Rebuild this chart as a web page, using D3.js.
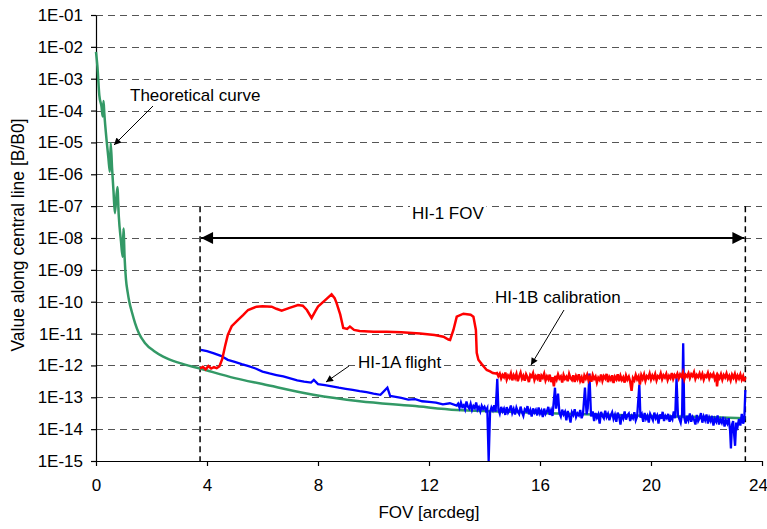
<!DOCTYPE html>
<html>
<head>
<meta charset="utf-8">
<script src="https://cdn.jsdelivr.net/npm/d3@7"></script>
<style>
  body { margin: 0; background: #fff; }
  text { font-family: "Liberation Sans", Arial, sans-serif; fill: #000; }
</style>
</head>
<body>
<div id="chart"></div>
<script>
// Axis ticks
const xTicks = [0, 4, 8, 12, 16, 20, 24];
const yTicks = [1e-1, 1e-2, 1e-3, 1e-4, 1e-5, 1e-6, 1e-7, 1e-8, 1e-9, 1e-10, 1e-11, 1e-12, 1e-13, 1e-14, 1e-15];
const yTickLabels = ["1E-01", "1E-02", "1E-03", "1E-04", "1E-05", "1E-06", "1E-07", "1E-08",
  "1E-09", "1E-10", "1E-11", "1E-12", "1E-13", "1E-14", "1E-15"];

// HI-1 field of view limits [arcdeg]
const fovEdges = [3.75, 23.4];

// Theoretical curve [FOV, B/B0]
const theoretical = [
  [0.00, 7.0e-3], [0.05, 2.5e-3], [0.12, 3.0e-4], [0.20, 1.3e-4], [0.24, 6.5e-5], [0.27, 2.0e-4],
  [0.30, 8.0e-5], [0.38, 1.2e-5], [0.45, 3.0e-6], [0.50, 1.2e-6], [0.53, 9.5e-6], [0.58, 1.5e-6],
  [0.63, 3.0e-7], [0.68, 6.0e-8], [0.77, 4.0e-7], [0.82, 5.0e-8], [0.90, 8.0e-9], [0.96, 2.6e-9],
  [0.99, 2.0e-8], [1.03, 2.5e-9], [1.08, 5.0e-10], [1.14, 2.0e-10], [1.20, 1.0e-10], [1.30, 4.5e-11],
  [1.41, 2.1e-11], [1.55, 1.0e-11], [1.77, 5.0e-12], [2.10, 2.8e-12], [2.42, 1.9e-12], [3.00, 1.2e-12],
  [3.75, 8.0e-13], [5.00, 4.0e-13], [6.00, 2.6e-13], [7.83, 1.2e-13], [9.50, 7.5e-14], [11.4, 5.4e-14],
  [13.0, 4.0e-14], [14.5, 3.6e-14], [16.0, 3.2e-14], [18.0, 2.9e-14], [20.0, 2.6e-14], [22.0, 2.4e-14],
  [23.4, 2.2e-14]
];

// HI-1A flight [FOV, B/B0]
const hi1aFlight = [
  [3.78, 3.1e-12], [4.00, 2.8e-12], [4.25, 2.4e-12], [4.50, 2.0e-12], [4.75, 1.5e-12], [5.00, 1.3e-12],
  [5.25, 1.1e-12], [5.50, 9.5e-13], [5.75, 8.0e-13], [6.00, 6.4e-13], [6.25, 5.6e-13], [6.50, 5.0e-13],
  [6.75, 4.5e-13], [7.00, 3.9e-13], [7.25, 3.4e-13], [7.50, 3.1e-13], [7.75, 2.9e-13], [7.85, 3.5e-13],
  [8.00, 2.6e-13], [8.25, 2.4e-13], [8.50, 2.2e-13], [8.75, 2.0e-13], [9.00, 1.85e-13], [9.25, 1.7e-13],
  [9.50, 1.55e-13], [9.75, 1.45e-13], [10.0, 1.3e-13], [10.25, 1.2e-13], [10.5, 2.0e-13], [10.6, 1.1e-13],
  [10.75, 1.05e-13], [11.0, 9.5e-14], [11.25, 8.5e-14], [11.5, 8.8e-14], [11.75, 7.5e-14], [12.0, 7.2e-14],
  [12.25, 6.8e-14], [12.5, 6.0e-14], [12.75, 6.5e-14],
  [13.00, 5.5e-14], [13.05, 6.3e-14], [13.10, 4.7e-14], [13.15, 6.8e-14], [13.20, 5.0e-14], [13.25, 5.6e-14],
  [13.30, 4.2e-14], [13.35, 7.4e-14], [13.40, 5.1e-14], [13.45, 4.4e-14], [13.50, 6.2e-14], [13.55, 4.0e-14],
  [13.60, 5.3e-14], [13.65, 4.6e-14], [13.70, 6.9e-14], [13.75, 4.1e-14], [13.80, 4.9e-14], [13.85, 3.6e-14],
  [13.90, 5.4e-14], [13.95, 4.3e-14], [14.00, 5.0e-14], [14.05, 3.8e-14], [14.10, 4.6e-14], [14.15, 1.0e-15],
  [14.20, 3.4e-14], [14.25, 4.8e-14], [14.30, 3.9e-14], [14.35, 5.6e-14], [14.40, 3.5e-14], [14.46, 3.8e-13],
  [14.50, 4.2e-14], [14.55, 3.1e-14], [14.60, 5.0e-14], [14.65, 3.6e-14], [14.70, 4.4e-14], [14.75, 2.8e-14],
  [14.80, 4.9e-14], [14.85, 3.3e-14], [14.90, 4.0e-14], [14.95, 5.5e-14], [15.00, 3.2e-14], [15.05, 4.3e-14],
  [15.10, 2.9e-14], [15.15, 4.7e-14], [15.20, 3.6e-14], [15.25, 3.0e-14], [15.30, 5.1e-14], [15.35, 3.4e-14],
  [15.40, 2.6e-14], [15.45, 4.2e-14], [15.50, 3.7e-14], [15.55, 5.3e-14], [15.60, 2.9e-14], [15.65, 3.9e-14],
  [15.70, 2.5e-14], [15.75, 4.5e-14], [15.80, 3.3e-14], [15.85, 4.0e-14], [15.90, 2.7e-14], [15.95, 4.8e-14],
  [16.00, 3.1e-14], [16.05, 3.8e-14], [16.10, 2.4e-14], [16.15, 4.4e-14], [16.20, 3.0e-14], [16.25, 3.6e-14],
  [16.30, 5.0e-14], [16.35, 2.8e-14], [16.40, 3.9e-14], [16.45, 2.6e-14], [16.54, 2.0e-13], [16.58, 4.4e-14],
  [16.65, 1.3e-13], [16.70, 3.2e-14], [16.75, 2.5e-14], [16.80, 4.1e-14], [16.85, 2.9e-14], [16.90, 3.5e-14],
  [16.95, 1.9e-14], [17.00, 3.7e-14], [17.05, 2.6e-14], [17.10, 1.6e-14], [17.15, 3.4e-14], [17.20, 2.8e-14],
  [17.25, 4.2e-14], [17.30, 2.4e-14], [17.35, 3.1e-14], [17.40, 2.7e-14], [17.45, 4.0e-14], [17.50, 2.2e-14],
  [17.55, 3.0e-14], [17.62, 2.0e-13], [17.68, 2.9e-14], [17.72, 4.5e-14], [17.78, 5.6e-13], [17.84, 2.5e-14],
  [17.90, 3.6e-14], [17.95, 1.8e-14], [18.00, 3.2e-14], [18.05, 2.3e-14], [18.10, 2.9e-14], [18.15, 1.5e-14],
  [18.20, 3.5e-14], [18.25, 2.6e-14], [18.30, 2.2e-14], [18.35, 3.8e-14], [18.40, 2.4e-14], [18.45, 3.0e-14],
  [18.50, 1.9e-14], [18.55, 2.7e-14], [18.60, 3.4e-14], [18.65, 2.1e-14], [18.70, 2.8e-14], [18.75, 1.7e-14],
  [18.80, 3.3e-14], [18.85, 2.5e-14], [18.90, 1.4e-14], [18.95, 2.9e-14], [19.00, 2.2e-14], [19.05, 3.6e-14],
  [19.10, 2.0e-14], [19.15, 2.7e-14], [19.20, 3.1e-14], [19.25, 1.8e-14], [19.30, 2.6e-14], [19.35, 2.2e-14],
  [19.40, 3.4e-14], [19.45, 1.9e-14], [19.50, 2.5e-14], [19.58, 2.5e-13], [19.62, 2.3e-14], [19.67, 2.9e-14],
  [19.72, 1.7e-14], [19.77, 3.2e-14], [19.82, 2.1e-14], [19.87, 2.6e-14], [19.92, 1.6e-14], [19.97, 3.0e-14],
  [20.02, 2.4e-14], [20.07, 1.9e-14], [20.12, 3.3e-14], [20.17, 2.2e-14], [20.22, 2.7e-14], [20.27, 1.5e-14],
  [20.32, 2.9e-14], [20.37, 2.1e-14], [20.42, 3.5e-14], [20.47, 1.8e-14], [20.52, 2.6e-14], [20.57, 2.2e-14],
  [20.62, 3.0e-14], [20.67, 1.7e-14], [20.72, 2.4e-14], [20.77, 2.0e-14], [20.82, 3.6e-14], [20.87, 2.2e-14],
  [20.92, 4.0e-13], [20.97, 2.8e-14], [21.02, 2.1e-14], [21.07, 1.6e-14], [21.12, 3.0e-14], [21.16, 5.0e-12],
  [21.20, 2.3e-14], [21.25, 1.5e-14], [21.30, 2.6e-14], [21.35, 1.9e-14], [21.40, 3.1e-14], [21.45, 1.7e-14],
  [21.50, 2.4e-14], [21.55, 2.0e-14], [21.60, 1.4e-14], [21.65, 2.8e-14], [21.70, 1.8e-14], [21.75, 2.2e-14],
  [21.80, 3.2e-14], [21.85, 1.6e-14], [21.90, 2.5e-14], [21.95, 1.9e-14], [22.00, 2.9e-14], [22.05, 1.5e-14],
  [22.10, 2.3e-14], [22.15, 1.8e-14], [22.20, 2.6e-14], [22.25, 1.3e-14], [22.30, 2.1e-14], [22.35, 1.7e-14],
  [22.40, 2.7e-14], [22.45, 1.4e-14], [22.50, 2.0e-14], [22.55, 1.6e-14], [22.60, 2.4e-14], [22.65, 1.2e-14],
  [22.70, 1.9e-14], [22.75, 1.5e-14], [22.80, 2.2e-14], [22.85, 9.0e-15], [22.88, 2.5e-15], [22.92, 1.4e-14],
  [22.96, 1.8e-14], [23.00, 6.0e-15], [23.03, 3.0e-15], [23.07, 1.6e-14], [23.12, 1.2e-14], [23.17, 2.1e-14],
  [23.22, 1.3e-14], [23.27, 3.0e-14], [23.32, 1.5e-14], [23.36, 1.9e-14], [23.40, 1.7e-13]
];

// HI-1B calibration [FOV, B/B0]
const hi1bCalibration = [
  [3.75, 8.0e-13], [3.85, 9.0e-13], [3.95, 7.5e-13], [4.05, 9.5e-13], [4.15, 8.0e-13], [4.25, 8.8e-13],
  [4.35, 8.2e-13], [4.45, 9.5e-13], [4.55, 1.6e-12], [4.65, 4.0e-12], [4.75, 9.0e-12], [4.89, 1.7e-11],
  [5.12, 2.7e-11], [5.30, 3.8e-11], [5.48, 5.5e-11], [5.79, 7.0e-11], [6.00, 7.2e-11], [6.33, 7.0e-11],
  [6.50, 6.0e-11], [6.69, 5.2e-11], [7.00, 6.5e-11], [7.28, 7.9e-11], [7.45, 7.5e-11], [7.60, 5.5e-11],
  [7.77, 3.1e-11], [7.90, 5.0e-11], [8.00, 7.0e-11], [8.25, 1.1e-10], [8.49, 1.7e-10], [8.60, 1.3e-10],
  [8.67, 9.0e-11], [8.80, 4.0e-11], [8.91, 1.5e-11], [9.05, 1.4e-11], [9.15, 1.65e-11], [9.30, 1.3e-11],
  [9.50, 1.2e-11], [10.0, 1.15e-11], [10.47, 1.15e-11], [11.0, 1.1e-11], [11.68, 1.0e-11], [12.2, 9.0e-12],
  [12.52, 8.0e-12], [12.7, 6.5e-12], [12.76, 6.3e-12], [12.88, 1.3e-11], [13.0, 3.4e-11], [13.24, 4.2e-11],
  [13.5, 3.9e-11], [13.6, 3.4e-11], [13.69, 1.3e-11], [13.72, 2.5e-12], [13.78, 1.5e-12], [13.9, 1.1e-12],
  [14.08, 7.2e-13], [14.2, 6.5e-13], [14.3, 5.8e-13], [14.4, 5.6e-13],
  [14.45, 5.8e-13], [14.50, 4.6e-13], [14.55, 5.5e-13], [14.60, 3.9e-13], [14.65, 5.0e-13], [14.70, 4.3e-13],
  [14.75, 6.0e-13], [14.80, 3.6e-13], [14.85, 4.8e-13], [14.90, 4.1e-13], [14.95, 5.6e-13], [15.00, 3.4e-13],
  [15.05, 4.9e-13], [15.10, 4.0e-13], [15.15, 5.4e-13], [15.20, 3.2e-13], [15.25, 4.5e-13], [15.30, 5.9e-13],
  [15.35, 3.8e-13], [15.40, 4.7e-13], [15.45, 3.3e-13], [15.50, 5.2e-13], [15.55, 4.2e-13], [15.60, 3.0e-13],
  [15.65, 5.0e-13], [15.70, 4.4e-13], [15.75, 5.7e-13], [15.80, 3.5e-13], [15.85, 4.6e-13], [15.90, 3.9e-13],
  [15.95, 5.3e-13], [16.00, 3.1e-13], [16.05, 4.8e-13], [16.10, 4.1e-13], [16.15, 5.5e-13], [16.20, 3.4e-13],
  [16.25, 4.5e-13], [16.30, 3.7e-13], [16.35, 5.1e-13], [16.40, 3.0e-13], [16.45, 4.3e-13], [16.50, 2.2e-13],
  [16.55, 4.7e-13], [16.60, 3.6e-13], [16.65, 5.2e-13], [16.70, 3.9e-13], [16.75, 4.5e-13], [16.80, 2.9e-13],
  [16.85, 5.0e-13], [16.90, 3.8e-13], [16.95, 4.4e-13], [17.00, 3.2e-13], [17.05, 5.4e-13], [17.10, 4.0e-13],
  [17.15, 3.5e-13], [17.20, 4.9e-13], [17.25, 3.0e-13], [17.30, 4.6e-13], [17.35, 3.7e-13], [17.40, 5.3e-13],
  [17.45, 3.3e-13], [17.50, 4.2e-13], [17.55, 2.8e-13], [17.60, 4.8e-13], [17.65, 3.9e-13], [17.70, 5.1e-13],
  [17.75, 3.4e-13], [17.80, 4.4e-13], [17.85, 3.1e-13], [17.90, 5.0e-13], [17.95, 3.8e-13], [18.00, 4.5e-13],
  [18.05, 2.9e-13], [18.10, 4.1e-13], [18.15, 3.5e-13], [18.20, 5.2e-13], [18.25, 3.3e-13], [18.30, 4.6e-13],
  [18.35, 3.9e-13], [18.40, 5.4e-13], [18.45, 3.0e-13], [18.50, 4.3e-13], [18.55, 3.6e-13], [18.60, 4.9e-13],
  [18.65, 2.8e-13], [18.70, 4.4e-13], [18.75, 3.7e-13], [18.80, 5.3e-13], [18.85, 3.2e-13], [18.90, 4.7e-13],
  [18.95, 3.5e-13], [19.00, 4.2e-13], [19.05, 2.9e-13], [19.10, 4.8e-13], [19.15, 3.6e-13], [19.20, 4.4e-13],
  [19.25, 3.1e-13], [19.30, 1.6e-13], [19.35, 4.0e-13], [19.40, 3.4e-13], [19.45, 5.0e-13], [19.50, 3.7e-13],
  [19.55, 4.5e-13], [19.60, 2.5e-13], [19.65, 4.9e-13], [19.70, 3.8e-13], [19.75, 5.2e-13], [19.80, 3.3e-13],
  [19.85, 4.6e-13], [19.90, 4.0e-13], [19.95, 5.5e-13], [20.00, 3.6e-13], [20.05, 4.8e-13], [20.10, 3.9e-13],
  [20.15, 5.3e-13], [20.20, 3.4e-13], [20.25, 4.6e-13], [20.30, 4.1e-13], [20.35, 5.6e-13], [20.40, 3.7e-13],
  [20.45, 4.9e-13], [20.50, 4.2e-13], [20.55, 5.4e-13], [20.60, 3.5e-13], [20.65, 4.7e-13], [20.70, 4.0e-13],
  [20.75, 5.8e-13], [20.80, 3.8e-13], [20.85, 5.0e-13], [20.90, 4.3e-13], [20.95, 5.5e-13], [21.00, 3.9e-13],
  [21.05, 5.2e-13], [21.10, 4.4e-13], [21.15, 6.0e-13], [21.20, 3.7e-13], [21.25, 5.1e-13], [21.30, 4.5e-13],
  [21.35, 5.7e-13], [21.40, 4.0e-13], [21.45, 5.3e-13], [21.50, 4.6e-13], [21.55, 6.1e-13], [21.60, 3.8e-13],
  [21.65, 5.0e-13], [21.70, 4.3e-13], [21.75, 5.6e-13], [21.80, 4.1e-13], [21.85, 5.4e-13], [21.90, 3.6e-13],
  [21.95, 4.9e-13], [22.00, 4.4e-13], [22.05, 5.8e-13], [22.10, 3.9e-13], [22.15, 5.2e-13], [22.20, 4.5e-13],
  [22.25, 5.5e-13], [22.30, 3.7e-13], [22.35, 4.6e-13], [22.38, 2.2e-13], [22.42, 4.8e-13], [22.47, 4.0e-13],
  [22.52, 5.3e-13], [22.57, 3.6e-13], [22.62, 5.0e-13], [22.67, 4.2e-13], [22.72, 5.6e-13], [22.77, 3.8e-13],
  [22.82, 4.7e-13], [22.87, 3.4e-13], [22.92, 5.1e-13], [22.97, 4.1e-13], [23.02, 5.4e-13], [23.07, 3.5e-13],
  [23.12, 4.8e-13], [23.17, 3.9e-13], [23.22, 5.2e-13], [23.27, 3.6e-13], [23.32, 4.6e-13], [23.36, 3.2e-13],
  [23.40, 4.3e-13]
];

// Layout
const W = 767, H = 529;
const margin = {top: 15, right: 5, bottom: 68, left: 96};

const svg = d3.select("#chart")
    .append("svg")
    .attr("width", W)
    .attr("height", H);

const x = d3.scaleLinear()
    .domain([0, 24])
    .range([margin.left, W - margin.right]);
const y = d3.scaleLog()
    .domain([1e-15, 1e-1])
    .range([H - margin.bottom, margin.top]);

// Dashed horizontal gridlines
svg.append("g")
    .selectAll("line")
    .data(yTicks.slice(0, -1))
    .enter()
    .append("line")
    .attr("x1", x(0))
    .attr("x2", x(24))
    .attr("y1", d => Math.round(y(d)) + 0.5)
    .attr("y2", d => Math.round(y(d)) + 0.5)
    .attr("stroke", "#555")
    .attr("stroke-width", 1.2)
    .attr("stroke-dasharray", "7,5");

// Axes
const yAxis = svg.append("g")
    .attr("transform", `translate(${x(0)},0)`)
    .call(d3.axisLeft(y)
        .tickValues(yTicks)
        .tickFormat((d, i) => yTickLabels[i])
        .tickSize(5)
        .tickSizeOuter(0));
const xAxis = svg.append("g")
    .attr("transform", `translate(0,${y(1e-15)})`)
    .call(d3.axisBottom(x)
        .tickValues(xTicks)
        .tickSize(5)
        .tickSizeOuter(0));
[yAxis, xAxis].forEach(g => {
    g.selectAll("path, line").attr("stroke", "#000").attr("stroke-width", 1.2);
    g.selectAll("text").style("font-size", "17px").attr("fill", "#000");
});
yAxis.selectAll("text").attr("x", -13);
xAxis.selectAll("text").attr("dy", "1.3em");
// keep the last label inside the window
xAxis.selectAll("text").filter(d => d === 24).attr("dx", -4);

// Axis titles
svg.append("text")
    .attr("x", (x(0) + x(24)) / 2)
    .attr("y", 518)
    .attr("text-anchor", "middle")
    .style("font-size", "17px")
    .text("FOV [arcdeg]");
svg.append("text")
    .attr("transform", "rotate(-90)")
    .attr("x", -235)
    .attr("y", 24)
    .attr("text-anchor", "middle")
    .style("font-size", "17.5px")
    .text("Value along central line [B/B0]");

// FOV edge markers
svg.append("g")
    .selectAll("line")
    .data(fovEdges)
    .enter()
    .append("line")
    .attr("x1", d => x(d))
    .attr("x2", d => x(d))
    .attr("y1", y(1e-7))
    .attr("y2", y(1e-15))
    .attr("stroke", "#000")
    .attr("stroke-width", 1.5)
    .attr("stroke-dasharray", "6,4");

// Series lines
const line = d3.line()
    .x(d => x(d[0]))
    .y(d => y(d[1]));

svg.append("path")
    .datum(theoretical)
    .attr("fill", "none")
    .attr("stroke", "#339966")
    .attr("stroke-width", 2.5)
    .attr("stroke-linejoin", "round")
    .attr("d", line.curve(d3.curveMonotoneX));
line.curve(d3.curveLinear);
svg.append("path")
    .datum(hi1aFlight)
    .attr("fill", "none")
    .attr("stroke", "#0000ff")
    .attr("stroke-width", 2.3)
    .attr("d", line);
svg.append("path")
    .datum(hi1bCalibration)
    .attr("fill", "none")
    .attr("stroke", "#ff0000")
    .attr("stroke-width", 2.5)
    .attr("d", line);

// Arrowheads
const defs = svg.append("defs");
defs.append("marker")
    .attr("id", "head")
    .attr("viewBox", "0 0 10 10")
    .attr("refX", 10).attr("refY", 5)
    .attr("markerWidth", 9).attr("markerHeight", 7)
    .attr("markerUnits", "userSpaceOnUse")
    .attr("orient", "auto-start-reverse")
    .append("path")
    .attr("d", "M0,0L10,5L0,10Z")
    .attr("fill", "#000");
defs.append("marker")
    .attr("id", "bighead")
    .attr("viewBox", "0 0 10 10")
    .attr("refX", 10).attr("refY", 5)
    .attr("markerWidth", 14).attr("markerHeight", 12)
    .attr("markerUnits", "userSpaceOnUse")
    .attr("orient", "auto-start-reverse")
    .append("path")
    .attr("d", "M0,0L10,5L0,10Z")
    .attr("fill", "#000");

// FOV double arrow
svg.append("line")
    .attr("x1", x(fovEdges[0]) + 1)
    .attr("x2", x(fovEdges[1]) - 1)
    .attr("y1", y(1e-8))
    .attr("y2", y(1e-8))
    .attr("stroke", "#000")
    .attr("stroke-width", 2)
    .attr("marker-start", "url(#bighead)")
    .attr("marker-end", "url(#bighead)");

// Labels with white boxes
function label(txt, lx, ly) {
    const t = svg.append("text")
        .attr("x", lx)
        .attr("y", ly)
        .style("font-size", "17px")
        .text(txt);
    const b = t.node().getBBox();
    svg.insert("rect", () => t.node())
        .attr("x", b.x - 2).attr("y", b.y)
        .attr("width", b.width + 4).attr("height", b.height)
        .attr("fill", "#fff");
}
label("Theoretical curve", 130, 101);
label("HI-1 FOV", 412, 219);
label("HI-1B calibration", 495, 303);
label("HI-1A flight", 358, 368);

// Annotation pointers
const pointers = [
    [[153, 106], [114, 145]],
    [[564, 310], [531, 365]],
    [[349, 366], [326, 382]]
];
svg.append("g")
    .selectAll("line")
    .data(pointers)
    .enter()
    .append("line")
    .attr("x1", d => d[0][0]).attr("y1", d => d[0][1])
    .attr("x2", d => d[1][0]).attr("y2", d => d[1][1])
    .attr("stroke", "#000")
    .attr("stroke-width", 1)
    .attr("marker-end", "url(#head)");
</script>
</body>
</html>
